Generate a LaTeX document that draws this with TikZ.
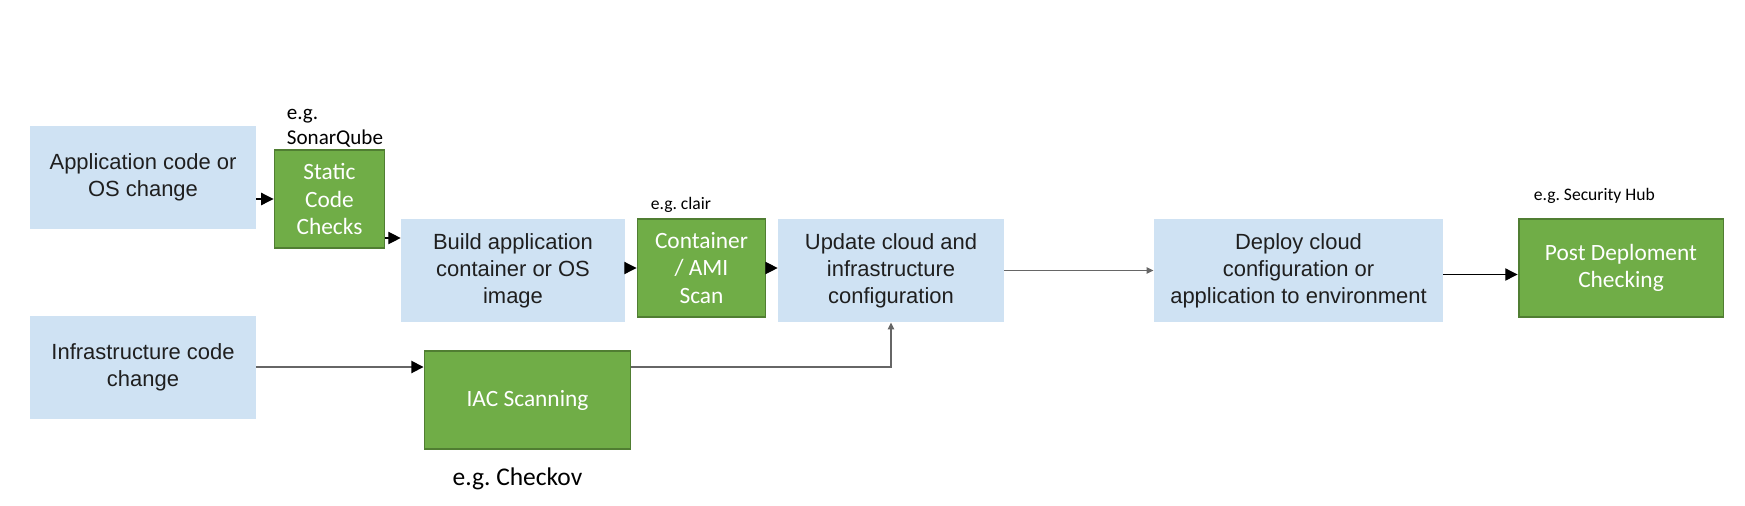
\documentclass[tikz,border=0pt]{standalone}
\usepackage{fontspec}
\setmainfont{Liberation Sans}
\newfontfamily\calibri{Carlito}
\usetikzlibrary{arrows.meta,calc}
\definecolor{paleblue}{HTML}{CFE2F3}
\definecolor{checkgreen}{HTML}{70AD47}
\definecolor{checkrim}{HTML}{507E32}
\definecolor{linegray}{HTML}{666666}
\frenchspacing
\begin{document}
\begin{tikzpicture}[x=0.02cm,y=-0.02cm,
  stage/.style={fill=paleblue,draw=none,align=center,text=black!88,
    font=\fontsize{12.5}{15.3}\selectfont,minimum width=4.52cm,minimum height=2.06cm,inner sep=0pt},
  check/.style={fill=checkgreen,draw=checkrim,line width=1.1pt,align=center,text=white,
    font=\calibri\fontsize{13.3}{15.6}\selectfont,minimum height=1.96cm,inner sep=0pt},
  note/.style 2 args={font=\calibri\fontsize{#1}{#2}\selectfont,inner sep=0pt,align=left},
  arr/.style={line width=0.6pt,-{Triangle[length=7pt,width=7pt,color=black]}},
  thin/.style={draw=linegray,line width=1pt,-{Triangle[length=4pt,width=3.5pt]}}]
\useasboundingbox (0,0) rectangle (1745,505);
% stages
\node[stage] (app) at (143,177.5) {Application code or\\OS change};
\node[stage] (infra) at (143,367) {Infrastructure code\\change};
\node[stage,minimum width=4.48cm] (build) at (513,270.5) {Build application\\container or OS\\image};
\node[stage] (update) at (891,270.5) {Update cloud and\\infrastructure\\configuration};
\node[stage,minimum width=5.78cm] (deploy) at (1298.5,270.5) {Deploy cloud\\configuration or\\application to environment};
% checks
\node[check,minimum width=2.2cm] (static) at (329.5,199) {Static\\Code\\Checks};
\node[check,minimum width=2.56cm] (scan) at (701.5,268) {Container\\/ AMI\\Scan};
\node[check,minimum width=4.12cm] (iac) at (527.5,400) {IAC Scanning};
\node[check,minimum width=4.1cm] (post) at (1621,268) {Post Deploment\\Checking};
% tool hints
\node[note={12}{14.2},anchor=south west] (sonar) at ([xshift=0.26cm,yshift=1pt]static.north west) {e.g.\\SonarQube};
\node[note={10}{12},anchor=south west] (clair) at ([xshift=0.28cm,yshift=3pt]scan.north west) {e.g. clair};
\node[note={10}{12},anchor=south west] (hub) at ([xshift=0.32cm,yshift=8pt]post.north west) {e.g. Security Hub};
\node[note={14.5}{17},anchor=north] (checkov) at ([xshift=-0.2cm,yshift=-10pt]iac.south) {e.g. Checkov};
% flow
\coordinate (sc) at ([yshift=-0.78cm]static.east);
\draw[arr] (app.east |- static.west) -- (static.west);
\draw[arr] (sc) -- (sc -| build.west);
\draw[arr] (build.east |- scan.west) -- (scan.west);
\draw[arr] (scan.east) -- (scan.east -| update.west);
\draw[thin] (update.east) -- (deploy.west);
\draw[arr] ([yshift=-0.08cm]deploy.east) -- ([yshift=-0.08cm]deploy.east -| post.west);
\draw[arr,draw=linegray,line width=1pt] (infra.east) -- (infra.east -| iac.west);
\draw[thin] (iac.east |- infra.east) -- (update.south |- infra.east) -- (update.south);
\end{tikzpicture}
\end{document}
